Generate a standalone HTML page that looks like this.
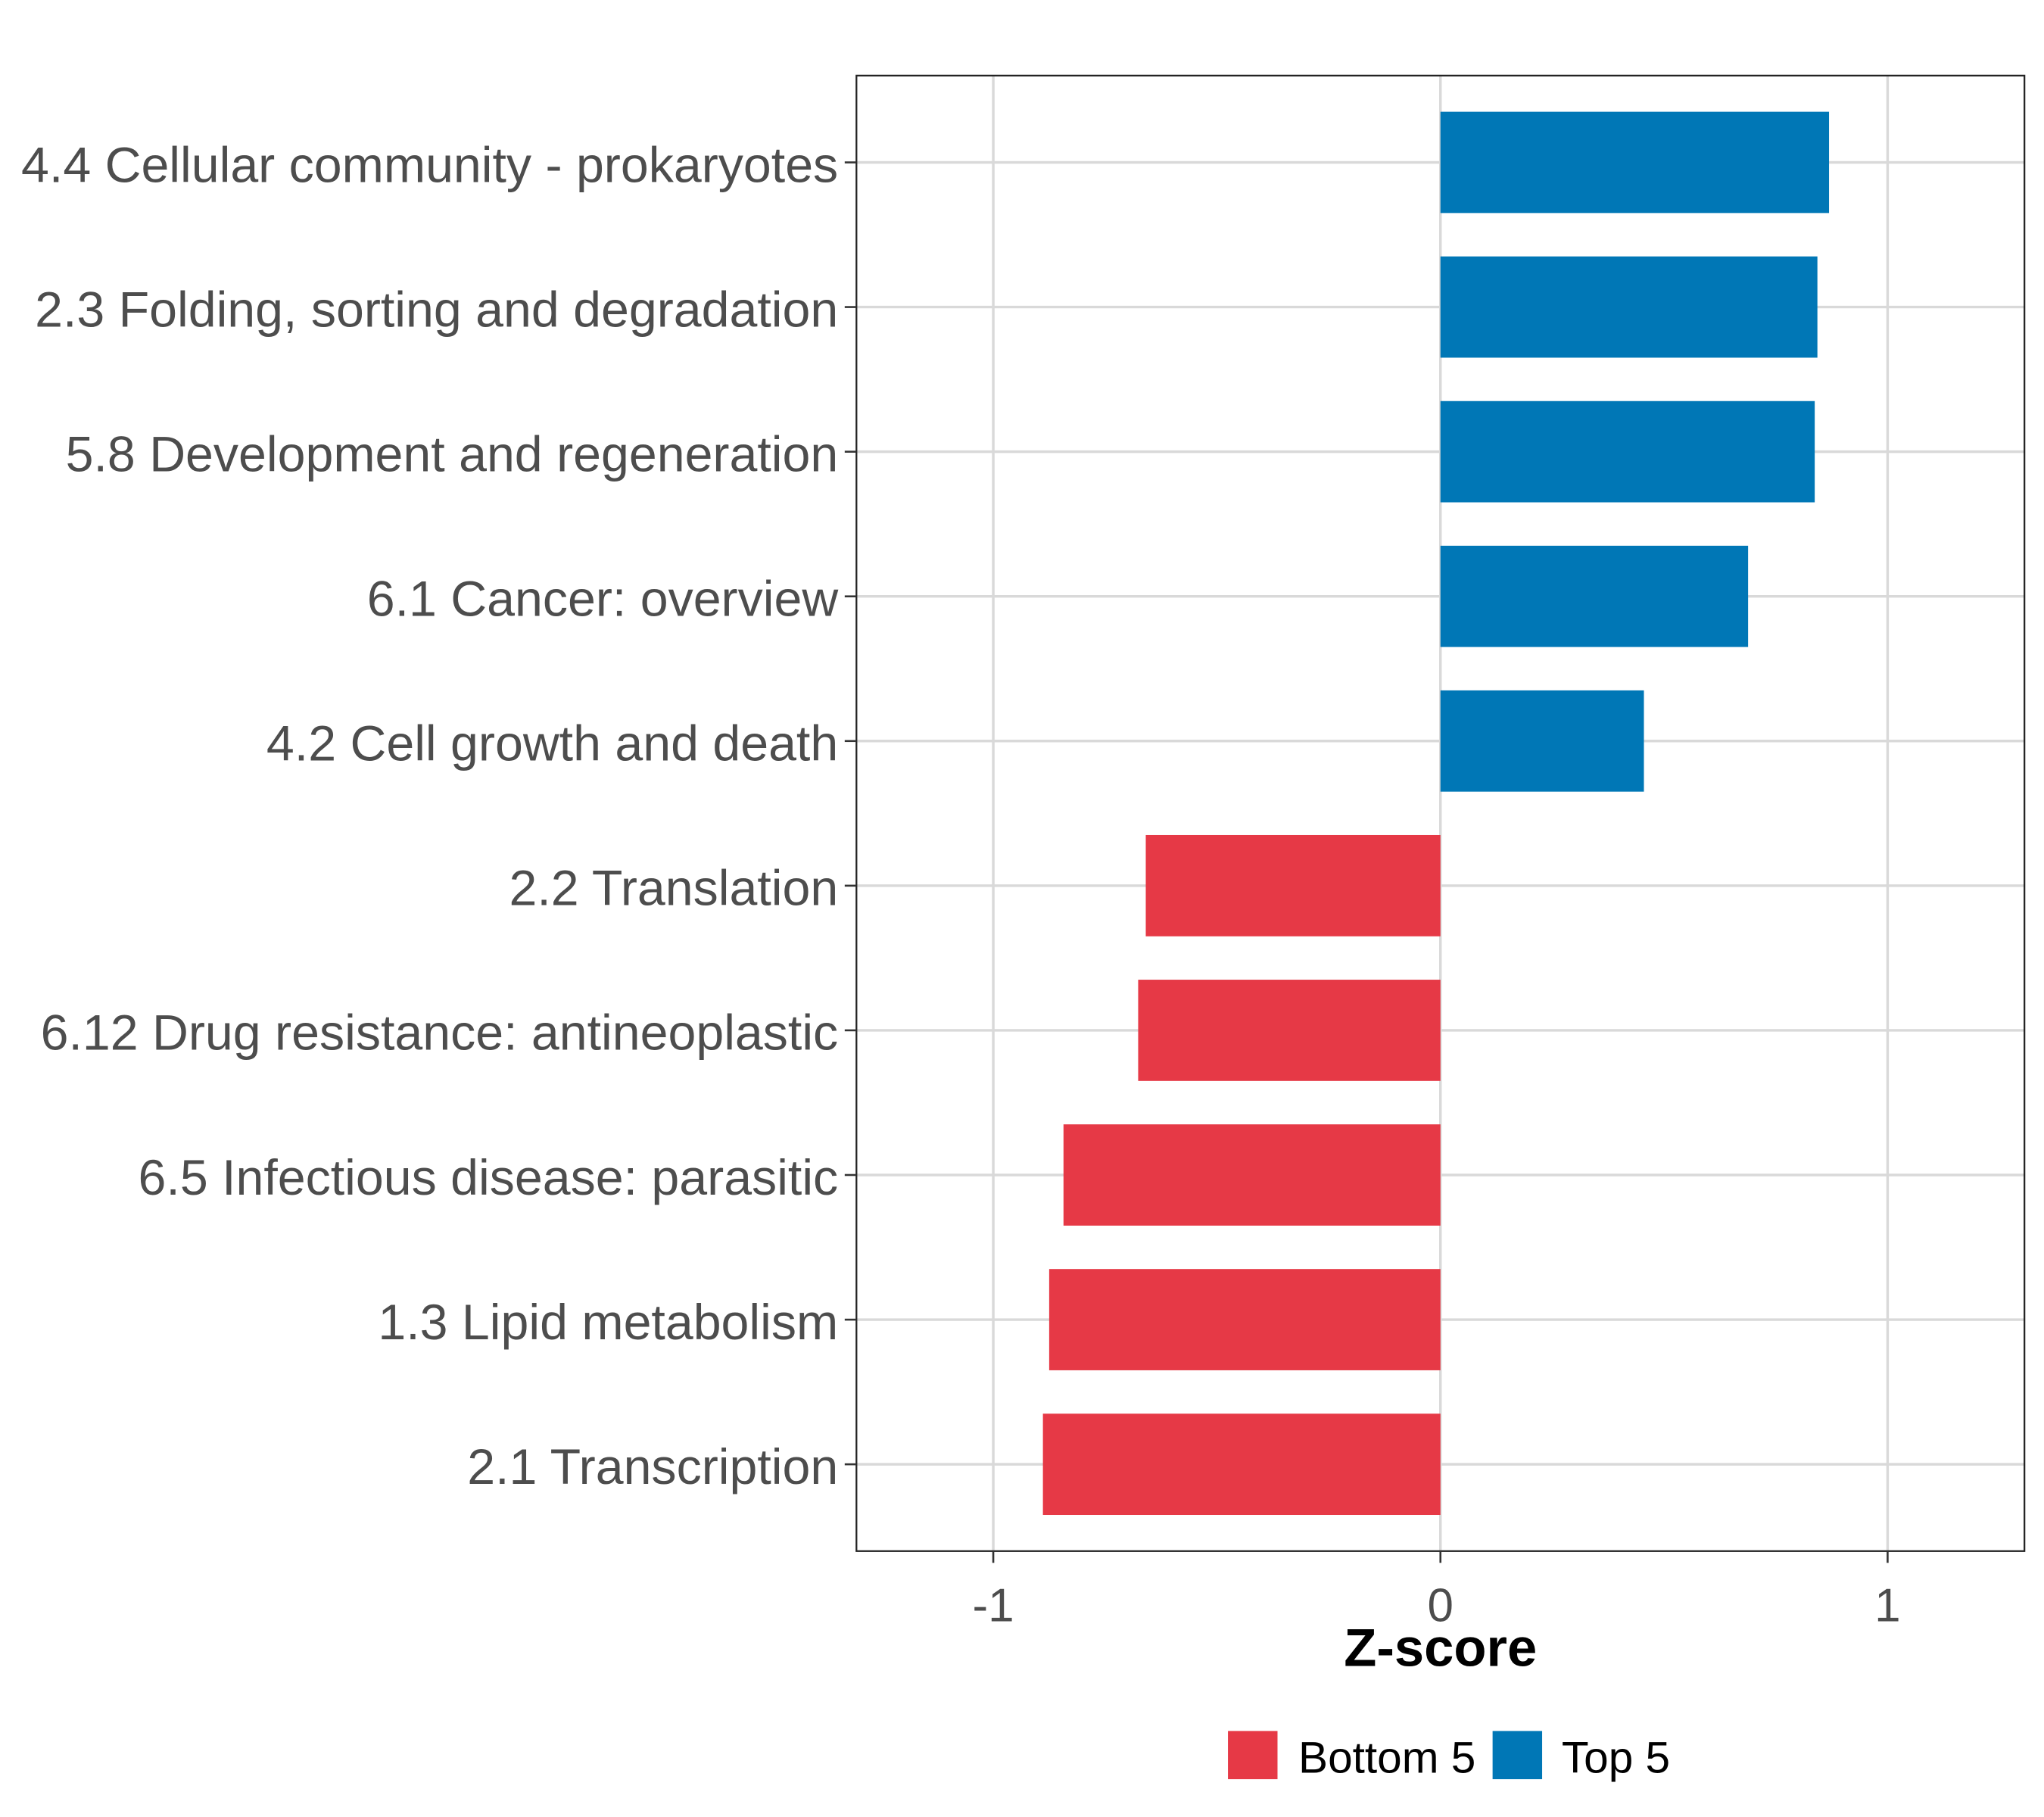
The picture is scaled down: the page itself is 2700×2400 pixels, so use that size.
<!DOCTYPE html>
<html><head><meta charset="utf-8"><style>html,body{margin:0;padding:0;background:#fff}svg{display:block}</style></head>
<body>
<svg id="chart" width="2700" height="2400" viewBox="0 0 1568 1394" preserveAspectRatio="none" xmlns="http://www.w3.org/2000/svg" font-family="'Liberation Sans', sans-serif">
<rect width="1568" height="1394" fill="#fff"/>
<g id="grid"></g>
<g id="bars"></g>
<rect x="657" y="58" width="896" height="1132" fill="none" stroke="#222" stroke-width="1.3"/>
<g id="axes"></g>
<text x="1105" y="1278" text-anchor="middle" font-size="41" font-weight="bold" fill="#000">Z-score</text>
<g>
<rect x="942" y="1328" width="38" height="37" fill="#E63946"/>
<text x="996" y="1360" font-size="34" fill="#000">Bottom 5</text>
<rect x="1145" y="1328" width="38" height="37" fill="#0077B6"/>
<text x="1198" y="1360" font-size="34" fill="#000">Top 5</text>
</g>
</svg>
<script>
const categories = ["4.4 Cellular community - prokaryotes","2.3 Folding, sorting and degradation","5.8 Development and regeneration","6.1 Cancer: overview","4.2 Cell growth and death","2.2 Translation","6.12 Drug resistance: antineoplastic","6.5 Infectious disease: parasitic","1.3 Lipid metabolism","2.1 Transcription"];
const values = [0.869,0.843,0.837,0.688,0.455,-0.659,-0.676,-0.843,-0.875,-0.889];
const groups = ["Top 5","Top 5","Top 5","Top 5","Top 5","Bottom 5","Bottom 5","Bottom 5","Bottom 5","Bottom 5"];
const xTicks = [-1,0,1];
const xTickLabels = ["-1","0","1"];

const NS="http://www.w3.org/2000/svg";
const colors={"Top 5":"#0077B6","Bottom 5":"#E63946"};
const px0=657, px1=1553, py0=58, py1=1190;
const xmin=-1.306, xmax=1.306;
function xs(v){return px0+(v-xmin)/(xmax-xmin)*(px1-px0);}
const step=(py1-py0)/(categories.length+0.2);
function ys(i){return py0+step*0.6+i*step;}
const bh=step*0.7;
function mk(tag,attrs,parent){const e=document.createElementNS(NS,tag);for(const k in attrs)e.setAttribute(k,attrs[k]);parent.appendChild(e);return e;}
const grid=document.getElementById('grid'),bars=document.getElementById('bars'),axes=document.getElementById('axes');
xTicks.forEach((t,i)=>{
  const l=mk('line',{x1:xs(t),x2:xs(t),y1:py0,y2:py1,stroke:'#d9d9d9','stroke-width':2},grid);
  
  
  const tk=mk('line',{x1:xs(t),x2:xs(t),y1:py1,y2:py1+9,stroke:'#333','stroke-width':1.5},axes);
  
  
  const tx=mk('text',{x:xs(t),y:py1+54,'text-anchor':'middle','font-size':36,fill:'#4d4d4d'},axes);
  tx.textContent=xTickLabels[i];
  
  
});
categories.forEach((c,i)=>{
  const y=ys(i);
  const g=mk('line',{x1:px0,x2:px1,y1:y,y2:y,stroke:'#d9d9d9','stroke-width':2},grid);
  
  
  const v=values[i];
  const r=mk('rect',{x:Math.min(xs(0),xs(v)),y:y-bh/2,width:Math.abs(xs(v)-xs(0)),height:bh,fill:colors[groups[i]]},bars);
  
  
  const tk=mk('line',{x1:px0-9,x2:px0,y1:y,y2:y,stroke:'#333','stroke-width':1.5},axes);
  
  
  const tx=mk('text',{x:px0-14,y:y+15,'text-anchor':'end','font-size':38.5,fill:'#4d4d4d'},axes);
  tx.textContent=c;
  
  
});
</script>
</body></html>
